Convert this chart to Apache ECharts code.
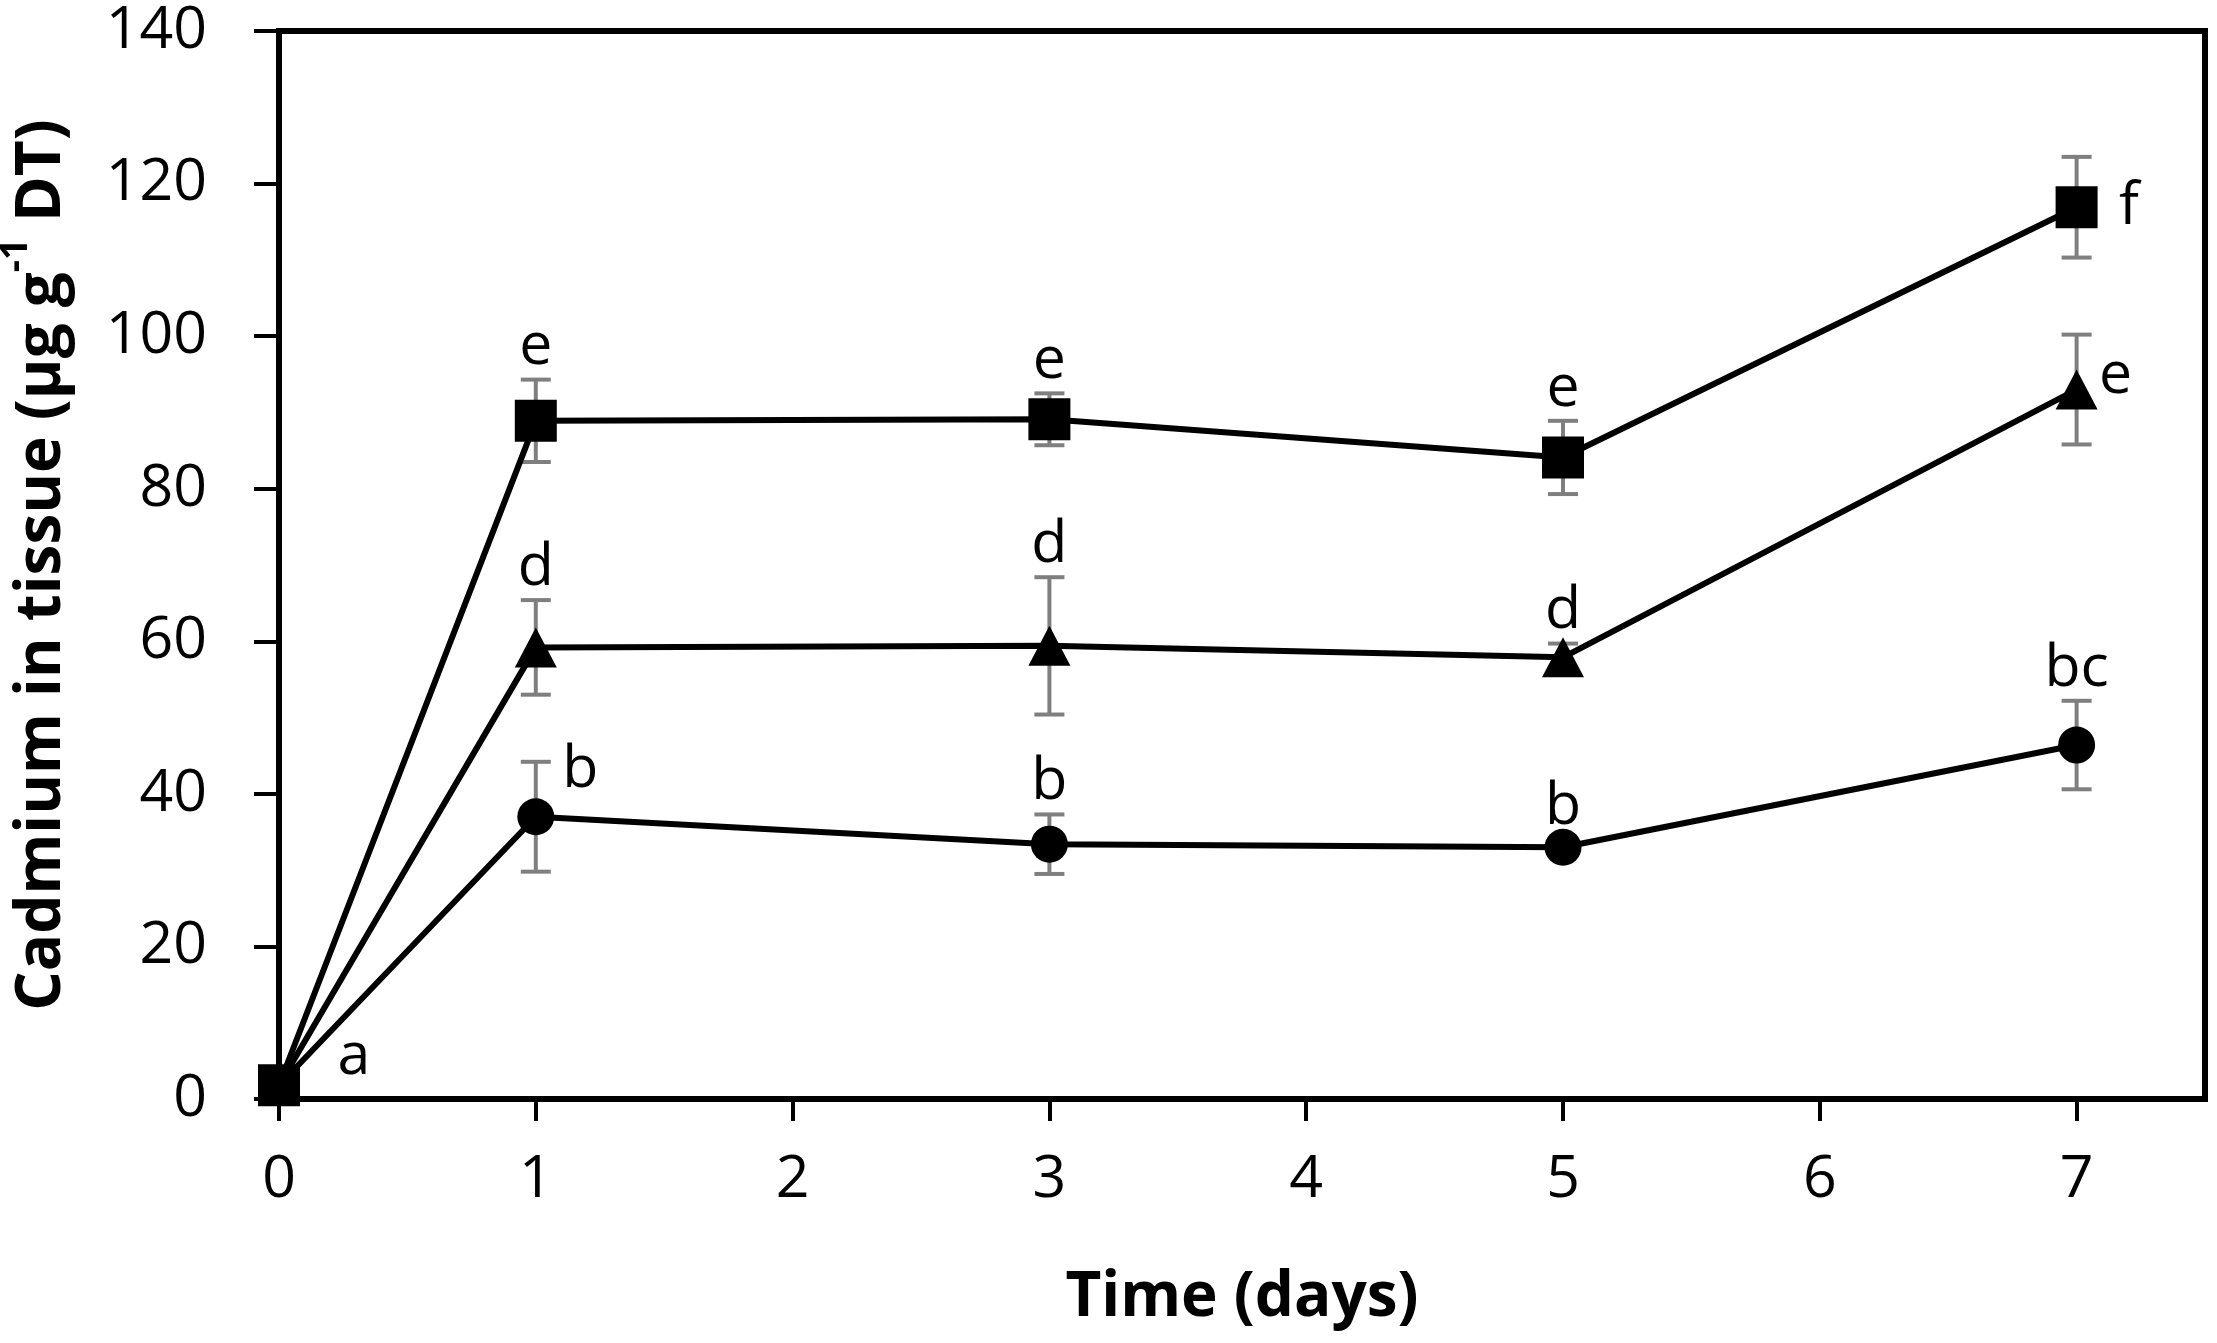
<!DOCTYPE html>
<html>
<head>
<meta charset="utf-8">
<script src="https://cdn.jsdelivr.net/npm/echarts@6/dist/echarts.min.js"></script>
<style>
  html, body { margin: 0; padding: 0; background: #fff; }
  #chart { width: 2217px; height: 1343px; }
</style>
</head>
<body>
<div id="chart"></div>
<script>
// Sampling days
const days = [0, 1, 3, 5, 7];

// Cd concentration, mean and SD for the three treatments
const circleMean = [1.8, 37.0, 33.4, 33.0, 46.4];
const circleSd = [0.4, 7.2, 3.9, 1.0, 5.8];
const triangleMean = [1.8, 59.2, 59.4, 57.9, 93.0];
const triangleSd = [0.4, 6.2, 9.0, 1.8, 7.2];
const squareMean = [1.8, 88.9, 89.1, 84.1, 116.9];
const squareSd = [0.4, 5.4, 3.4, 4.8, 6.6];

// Significance letters
const circleLetters = ["", "b", "b", "b", "bc"];
const triangleLetters = ["", "d", "d", "d", "e"];
const squareLetters = ["a", "e", "e", "e", "f"];

// Tick labels
const xTicks = [0, 1, 2, 3, 4, 5, 6, 7];
const yTicks = [0, 20, 40, 60, 80, 100, 120, 140];

const FONT = "Open Sans";

// where each letter goes relative to its point
const circlePlace = ["none", "rightTop", "top", "top", "top"];
const trianglePlace = ["none", "top", "top", "top", "rightUp"];
const squarePlace = ["origin", "top", "top", "top", "right"];

function lineSeries(mean, symbol, size) {
  return {
    type: "line",
    data: days.map((d, i) => [d, mean[i]]),
    symbol: symbol,
    symbolSize: size,
    showAllSymbol: true,
    lineStyle: { color: "#000", width: 6 },
    itemStyle: { color: "#000" },
    z: 3,
  };
}

function errorSeries(mean, sd) {
  return {
    type: "custom",
    data: days.map((d, i) => [d, mean[i] - sd[i], mean[i] + sd[i]]),
    renderItem: function (params, api) {
      let lo = api.coord([api.value(0), api.value(1)]);
      let hi = api.coord([api.value(0), api.value(2)]);
      let w = 15;
      let style = { stroke: "#7f7f7f", lineWidth: 4 };
      return {
        type: "group",
        children: [
          { type: "line", shape: { x1: lo[0], y1: lo[1], x2: hi[0], y2: hi[1] }, style: style },
          { type: "line", shape: { x1: hi[0] - w, y1: hi[1], x2: hi[0] + w, y2: hi[1] }, style: style },
          { type: "line", shape: { x1: lo[0] - w, y1: lo[1], x2: lo[0] + w, y2: lo[1] }, style: style },
        ],
      };
    },
    z: 2,
  };
}

function letterSeries(mean, sd, letters, place) {
  let data = [];
  days.forEach((d, i) => {
    if (!letters[i]) return;
    let p = place[i];
    let y = mean[i];
    let label = {
      show: true,
      formatter: letters[i],
      color: "#000",
      opacity: 1,
      textBorderWidth: 0,
      fontFamily: FONT,
      fontSize: 59,
    };
    if (p === "top") {
      y = mean[i] + sd[i];
      label.position = "top";
      label.distance = 2;
    } else if (p === "rightTop") {
      y = mean[i] + sd[i];
      label.position = "right";
      label.distance = 26;
      label.offset = [0, 8];
    } else if (p === "rightUp") {
      label.position = "right";
      label.distance = 22;
      label.offset = [0, -13];
    } else if (p === "right") {
      label.position = "right";
      label.distance = 42;
    } else if (p === "origin") {
      label.position = "right";
      label.distance = 58;
      label.offset = [0, -28];
    }
    data.push({ value: [d, y], label: label });
  });
  return {
    type: "scatter",
    data: data,
    symbolSize: 1,
    itemStyle: { color: "#fff", opacity: 1 },
    label: { color: "#000", fontFamily: FONT, fontSize: 59 },
    emphasis: { disabled: true },
    silent: true,
    z: 1,
  };
}

var chart = echarts.init(document.getElementById("chart"), null, { renderer: "canvas" });

var option = {
  backgroundColor: "#fff",
  animation: false,
  grid: {
    left: 279,
    right: 12,
    top: 31,
    bottom: 244,
    outerBoundsMode: "none",
    show: true,
    borderColor: "#000",
    borderWidth: 6,
  },
  xAxis: {
    type: "value",
    min: 0,
    max: 7.5,
    interval: 1,
    name: "Time (days)",
    nameLocation: "middle",
    nameGap: 168,
    nameTextStyle: { fontFamily: FONT, fontSize: 62, fontWeight: "bold", color: "#000" },
    axisLine: { show: true, lineStyle: { color: "#000", width: 6 } },
    axisTick: { show: true, inside: false, length: 22, lineStyle: { color: "#000", width: 4 }, customValues: xTicks },
    axisLabel: { fontFamily: FONT, fontSize: 59, color: "#000", margin: 52, customValues: xTicks },
    splitLine: { show: false },
  },
  yAxis: {
    type: "value",
    min: 0,
    max: 140,
    interval: 20,
    name: "{t|Cadmium in tissue (µg g}{s|-1}{t| DT)}",
    nameLocation: "middle",
    nameRotate: 90,
    nameGap: 206,
    nameTextStyle: {
      rich: {
        t: { fontFamily: FONT, fontSize: 62, fontWeight: "bold", color: "#000", lineHeight: 76, verticalAlign: "bottom" },
        s: { fontFamily: FONT, fontSize: 38, fontWeight: "bold", color: "#000", lineHeight: 76, verticalAlign: "top" },
      },
    },
    axisLine: { show: true, lineStyle: { color: "#000", width: 6 } },
    axisTick: { show: true, inside: false, length: 25, lineStyle: { color: "#000", width: 4 }, customValues: yTicks },
    axisLabel: { fontFamily: FONT, fontSize: 59, color: "#000", margin: 72, customValues: yTicks },
    splitLine: { show: false },
  },
  series: [
    errorSeries(circleMean, circleSd),
    errorSeries(triangleMean, triangleSd),
    errorSeries(squareMean, squareSd),
    lineSeries(circleMean, "circle", 37),
    lineSeries(triangleMean, "triangle", [42, 40]),
    lineSeries(squareMean, "rect", 42),
    letterSeries(circleMean, circleSd, circleLetters, circlePlace),
    letterSeries(triangleMean, triangleSd, triangleLetters, trianglePlace),
    letterSeries(squareMean, squareSd, squareLetters, squarePlace),
  ],
};

chart.setOption(option);
window.addEventListener("resize", chart.resize);
</script>
</body>
</html>
